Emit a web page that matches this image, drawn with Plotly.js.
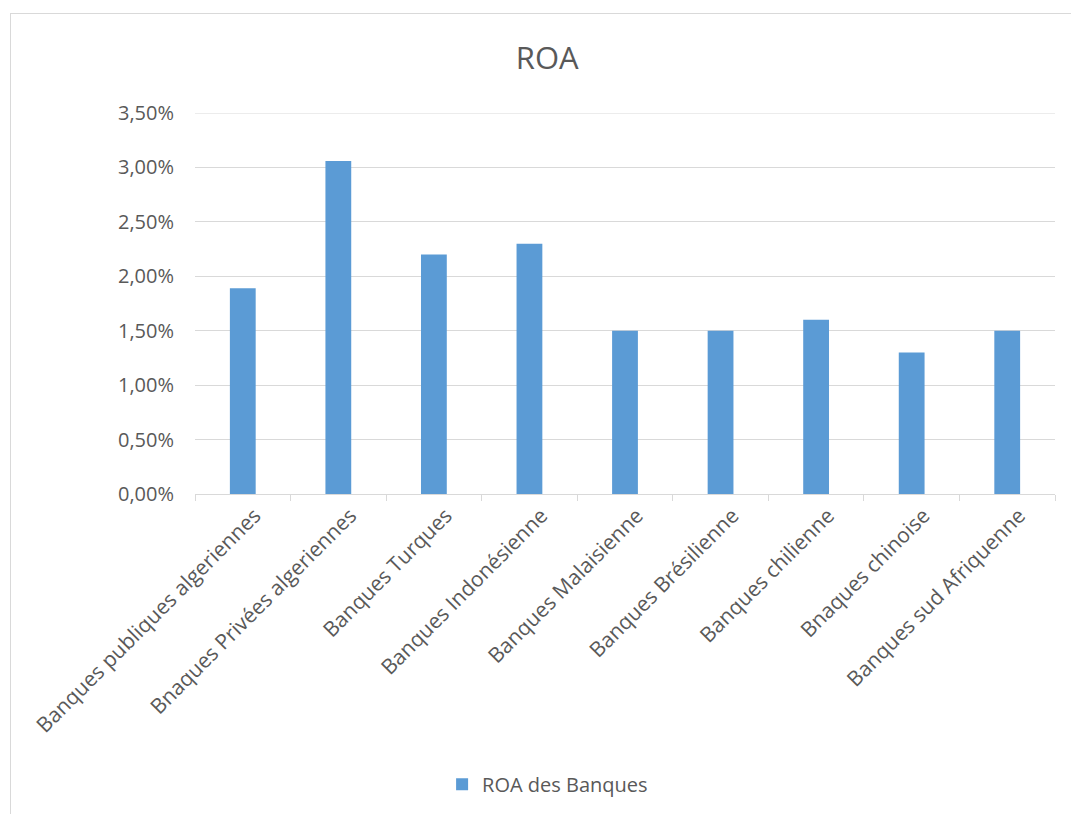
<!DOCTYPE html>
<html>
<head>
<meta charset="utf-8">
<script src="https://cdn.plot.ly/plotly-3.0.1.min.js"></script>
<style>
  html, body { margin: 0; padding: 0; background: #fff; }
  #chart { position: absolute; left: 0; top: 0; width: 1071px; height: 814px; }
  #frame { position: absolute; left: 10px; top: 13px; width: 1100px; height: 850px;
           border-left: 1px solid #d9d9d9; border-top: 1px solid #d9d9d9; pointer-events: none; }
</style>
</head>
<body>
<div id="chart"></div>
<div id="frame"></div>
<script>
const categories = [
  "Banques publiques algeriennes",
  "Bnaques Privées algeriennes",
  "Banques Turques",
  "Banques Indonésienne",
  "Banques Malaisienne",
  "Banques Brésilienne",
  "Banques chilienne",
  "Bnaques chinoise",
  "Banques sud Afriquenne"
];
const roaValues = [0.0189, 0.0306, 0.022, 0.023, 0.015, 0.015, 0.016, 0.013, 0.015];
const seriesName = "ROA des Banques";
const yTickVals = [0, 0.005, 0.01, 0.015, 0.02, 0.025, 0.03, 0.035];
const yMax = 0.035;

const font = "'Open Sans', 'Noto Sans', sans-serif";
const trace = {
  type: "bar",
  x: categories,
  y: roaValues,
  name: seriesName,
  marker: { color: "#5b9bd5" },
  hoverinfo: "x+y"
};

const layout = {
  width: 1071, height: 814,
  margin: { l: 195, r: 16, t: 113, b: 319 },
  paper_bgcolor: "rgba(0,0,0,0)",
  plot_bgcolor: "#fff",
  separators: ", ",
  font: { family: font, color: "#595959", size: 20 },
  title: { text: "ROA", x: 0.511, xanchor: "center", y: 0.928, yanchor: "middle",
           font: { family: font, size: 31, color: "#595959" } },
  bargap: 0.73,
  showlegend: true,
  legend: { orientation: "h", x: 0.41, xanchor: "center", y: -0.757, yanchor: "middle",
            font: { family: font, size: 20, color: "#595959" } },
  shapes: [{
    type: "line", xref: "paper", x0: 0, x1: 1, yref: "y", y0: yMax, y1: yMax,
    line: { color: "#d9d9d9", width: 1 }, layer: "below"
  }],
  xaxis: {
    type: "category",
    tickangle: -45,
    showline: true, linecolor: "#d9d9d9", linewidth: 1,
    ticks: "outside", tickson: "boundaries", ticklen: 6, tickcolor: "#d9d9d9",
    showgrid: false,
    ticklabelshift: 12,
    tickfont: { family: font, size: 21, color: "#595959" }
  },
  yaxis: {
    range: [0, yMax],
    tickvals: yTickVals,
    tickformat: ".2%",
    showgrid: true, gridcolor: "#d9d9d9", gridwidth: 1,
    zeroline: false, showline: false,
    ticks: "", ticklabelstandoff: 20,
    tickfont: { family: font, size: 20, color: "#595959" }
  }
};

Plotly.newPlot("chart", [trace], layout, { displayModeBar: false, staticPlot: true });
</script>
</body>
</html>
